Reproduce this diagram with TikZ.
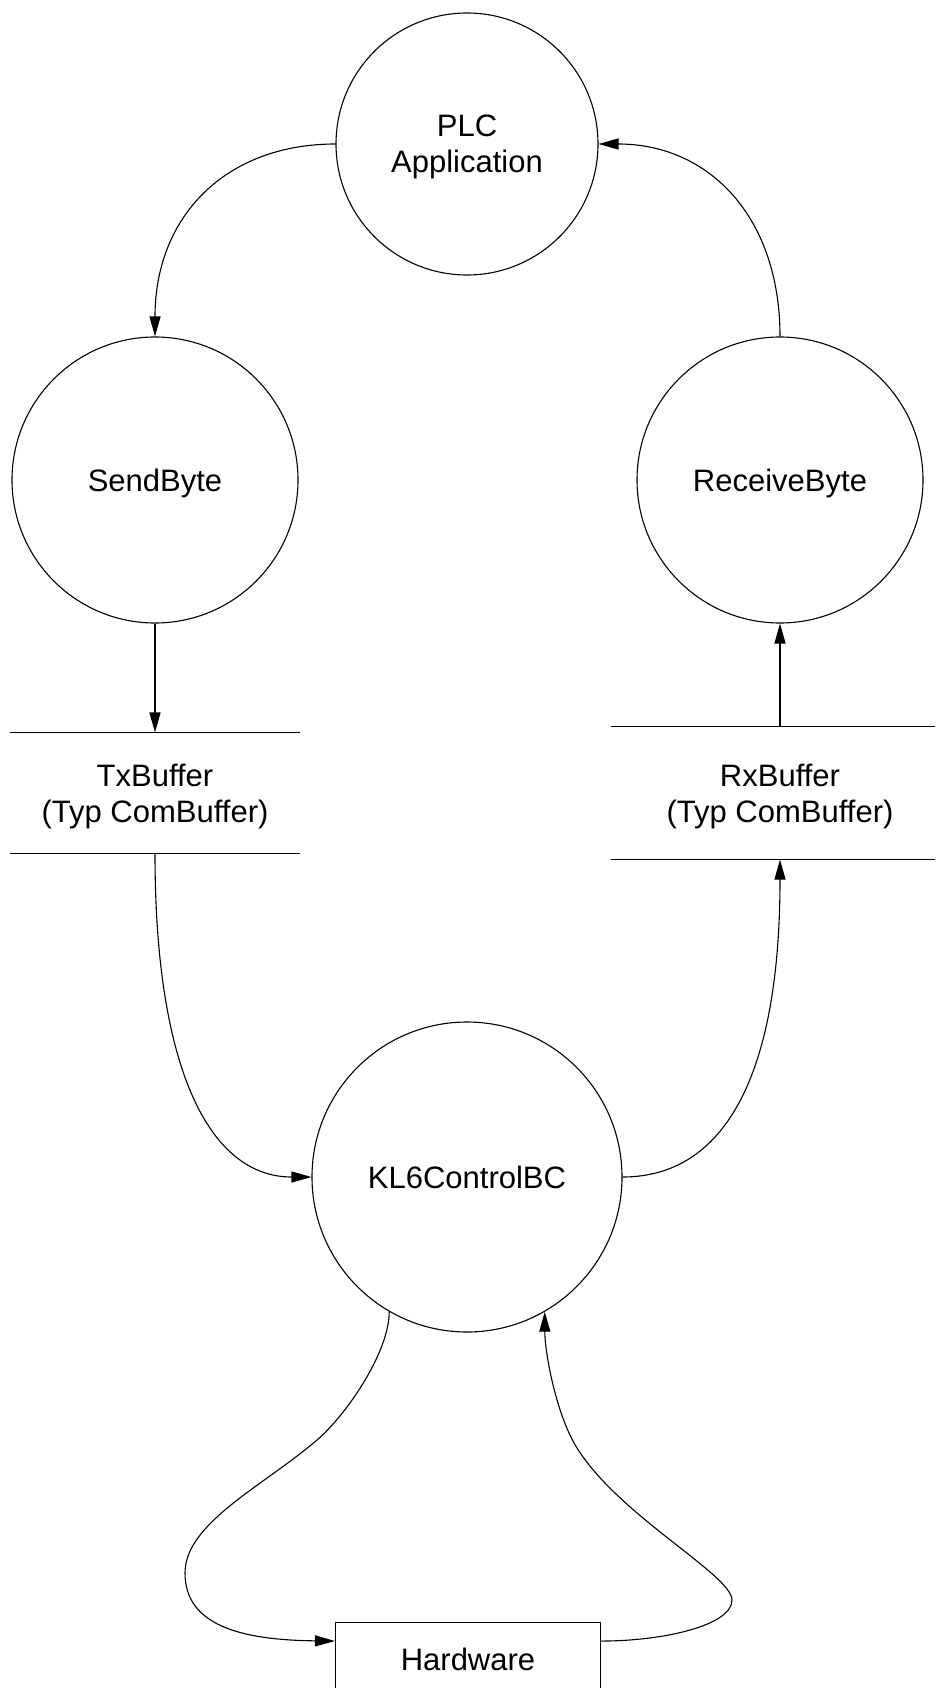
\documentclass[tikz,border=0pt]{standalone}
\usepackage{fontspec}
\setmainfont{Liberation Sans}
\usetikzlibrary{arrows.meta}
\begin{document}
\begin{tikzpicture}[x=1pt,y=-1pt,
  line width=1.1pt,
  every node/.style={font=\fontsize{31}{36}\selectfont},
  circ/.style={circle,draw,inner sep=0pt,text depth=0pt,align=center},
  buf/.style={inner sep=0pt,text depth=0pt,align=center},
  hwbox/.style={draw,rectangle,inner sep=0pt,text depth=0pt,minimum width=265pt,minimum height=73pt,anchor=north},
  arr/.style={-{Triangle[length=20pt,width=11pt]}}]
\path[use as bounding box, clip] (0,0) rectangle (935,1688);

% nodes
\node[circ,minimum size=262pt] (plc) at (467,144) {PLC\\Application};
\node[circ,minimum size=286pt] (send) at (155,480) {SendByte};
\node[circ,minimum size=286pt] (recv) at (780,480) {ReceiveByte};
\node[buf,minimum width=288pt,minimum height=120pt] (tx) at (155,793) {TxBuffer\\(Typ ComBuffer)};
\node[buf,minimum width=336pt,minimum height=132pt] (rx) at (780,793) {RxBuffer\\(Typ ComBuffer)};
\node[circ,minimum size=310pt] (kl6) at (467,1177) {KL6ControlBC};
\node[hwbox] (hw) at (468,1622) {Hardware};

% buffer lines
\draw (tx.north west) -- (tx.north east);
\draw (tx.south west) -- (tx.south east);
\draw (rx.north west) -- (rx.north east);
\draw (rx.south west) -- (rx.south east);

% connectors
\draw[arr] (plc.west) .. controls +(-110,0) and +(0,-120) .. (send.north);
\draw[arr] (recv.north) .. controls +(0,-120) and +(110,0) .. (plc.east);
\draw[arr] (send.south) -- (tx.north);
\draw[arr] (rx.north) -- (recv.south);
\draw[arr] (tx.south) .. controls +(0,220) and +(-100,0) .. (kl6.west);
\draw[arr] (kl6.east) .. controls +(100,0) and +(0,220) .. (rx.south);
\draw[arr] (kl6.240) .. controls +(0,40) and (347.3,1413.9) .. (317,1440)
   .. controls (264,1485.6) and (185,1523) .. (185,1573)
   .. controls (185,1625) and (240,1640) .. ([yshift=18pt]hw.west);
\draw[arr] ([yshift=18pt]hw.east) .. controls (665,1641) and (732,1625) .. (732,1600)
   .. controls (732,1575) and (619.4,1516) .. (577,1448)
   .. controls (555.8,1414) and +(0,40) .. (kl6.300);
\end{tikzpicture}
\end{document}
